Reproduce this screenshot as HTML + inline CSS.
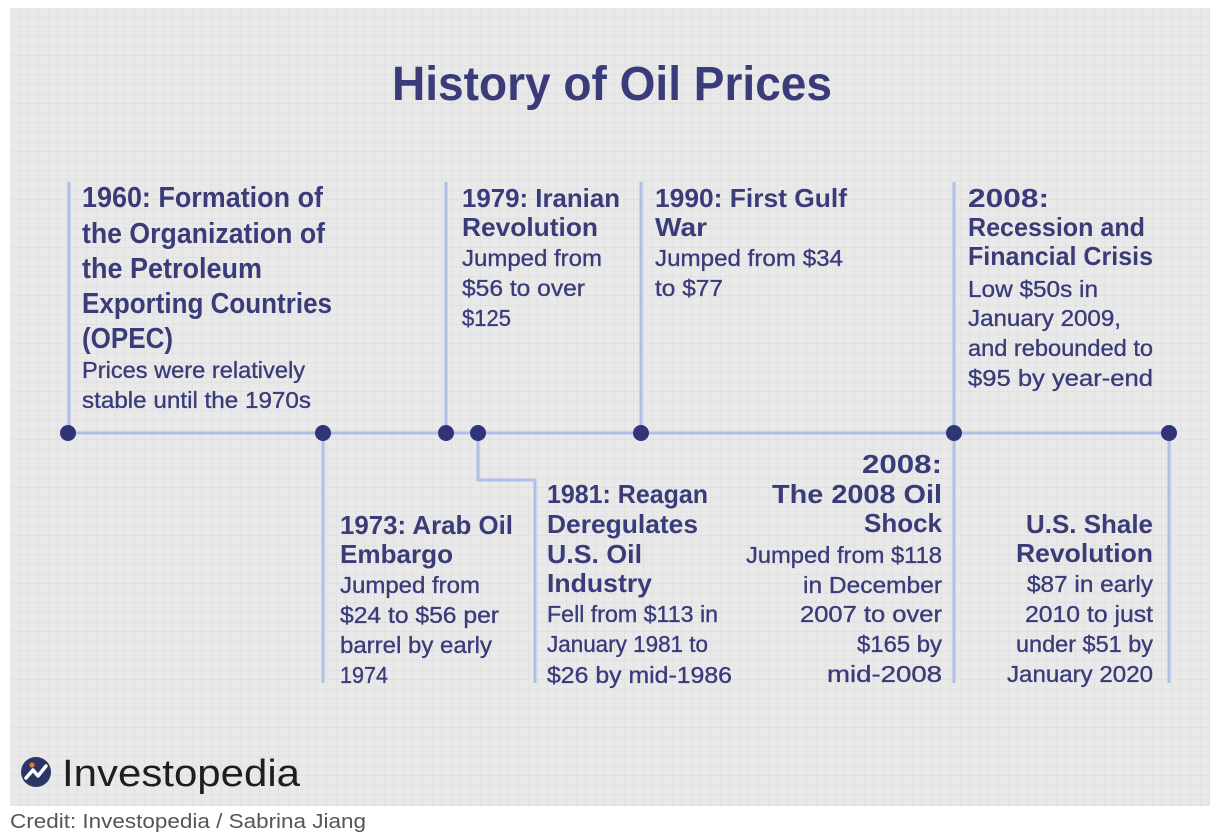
<!DOCTYPE html>
<html>
<head>
<meta charset="utf-8">
<style>
  html,body{margin:0;padding:0;background:#ffffff;}
  svg{display:block;}
  .t{font-family:"Liberation Sans",sans-serif;fill:#3a3c7a;}
  .h{font-weight:bold;}
  .b{font-weight:normal;stroke:#3a3c7a;stroke-width:0.35;}
</style>
</head>
<body>
<svg width="1220" height="836" viewBox="0 0 1220 836" xmlns="http://www.w3.org/2000/svg">
  <defs>
    <pattern id="grid" x="10" y="8" width="9.6" height="9.6" patternUnits="userSpaceOnUse">
      <rect width="9.6" height="9.6" fill="#e9e9e9"/>
      <path d="M9.6 0 V9.6 M0 9.6 H9.6" stroke="#d9d9d9" stroke-width="1" fill="none"/>
    </pattern>
  </defs>
  <rect x="0" y="0" width="1220" height="836" fill="#ffffff"/>
  <rect x="10" y="8" width="1200" height="798" fill="url(#grid)"/>

  <!-- Title -->
  <text class="t h" x="392" y="100" font-size="48" textLength="440" lengthAdjust="spacingAndGlyphs" fill="#35387e">History of Oil Prices</text>

  <!-- Lines -->
  <g stroke="#aebfe8" stroke-width="3" fill="none">
    <line x1="68" y1="433" x2="1170" y2="433"/>
    <line x1="69" y1="182" x2="69" y2="433"/>
    <line x1="323" y1="433" x2="323" y2="683"/>
    <line x1="446" y1="182" x2="446" y2="433"/>
    <polyline points="478,433 478,480 535,480 535,683"/>
    <line x1="641" y1="182" x2="641" y2="433"/>
    <line x1="954" y1="182" x2="954" y2="683"/>
    <line x1="1169" y1="433" x2="1169" y2="683"/>
  </g>
  <g fill="#2f3576">
    <circle cx="68" cy="433" r="8"/>
    <circle cx="323" cy="433" r="8"/>
    <circle cx="446" cy="433" r="8"/>
    <circle cx="478" cy="433" r="8"/>
    <circle cx="641" cy="433" r="8"/>
    <circle cx="954" cy="433" r="8"/>
    <circle cx="1169" cy="433" r="8"/>
  </g>

  <!-- 1960 -->
  <text class="t h" x="82" y="207" font-size="29" textLength="241" lengthAdjust="spacingAndGlyphs">1960: Formation of</text>
  <text class="t h" x="82" y="243" font-size="29" textLength="243" lengthAdjust="spacingAndGlyphs">the Organization of</text>
  <text class="t h" x="82" y="278" font-size="29" textLength="180" lengthAdjust="spacingAndGlyphs">the Petroleum</text>
  <text class="t h" x="82" y="313" font-size="29" textLength="250" lengthAdjust="spacingAndGlyphs">Exporting Countries</text>
  <text class="t h" x="82" y="348" font-size="29" textLength="91" lengthAdjust="spacingAndGlyphs">(OPEC)</text>
  <text class="t b" x="82" y="378" font-size="23" textLength="223" lengthAdjust="spacingAndGlyphs">Prices were relatively</text>
  <text class="t b" x="82" y="408" font-size="23" textLength="229" lengthAdjust="spacingAndGlyphs">stable until the 1970s</text>

  <!-- 1979 -->
  <text class="t h" x="462" y="207" font-size="26" textLength="158" lengthAdjust="spacingAndGlyphs">1979: Iranian</text>
  <text class="t h" x="462" y="236" font-size="26" textLength="136" lengthAdjust="spacingAndGlyphs">Revolution</text>
  <text class="t b" x="462" y="266" font-size="23" textLength="140" lengthAdjust="spacingAndGlyphs">Jumped from</text>
  <text class="t b" x="462" y="296" font-size="23" textLength="123" lengthAdjust="spacingAndGlyphs">$56 to over</text>
  <text class="t b" x="462" y="326" font-size="23" textLength="49" lengthAdjust="spacingAndGlyphs">$125</text>

  <!-- 1990 -->
  <text class="t h" x="655" y="207" font-size="26" textLength="192" lengthAdjust="spacingAndGlyphs">1990: First Gulf</text>
  <text class="t h" x="655" y="236" font-size="26" textLength="52" lengthAdjust="spacingAndGlyphs">War</text>
  <text class="t b" x="655" y="266" font-size="23" textLength="188" lengthAdjust="spacingAndGlyphs">Jumped from $34</text>
  <text class="t b" x="655" y="296" font-size="23" textLength="68" lengthAdjust="spacingAndGlyphs">to $77</text>

  <!-- 2008 Recession -->
  <text class="t h" x="968" y="207" font-size="26" textLength="81" lengthAdjust="spacingAndGlyphs">2008:</text>
  <text class="t h" x="968" y="236" font-size="26" textLength="177" lengthAdjust="spacingAndGlyphs">Recession and</text>
  <text class="t h" x="968" y="265" font-size="26" textLength="185" lengthAdjust="spacingAndGlyphs">Financial Crisis</text>
  <text class="t b" x="968" y="297" font-size="23" textLength="130" lengthAdjust="spacingAndGlyphs">Low $50s in</text>
  <text class="t b" x="968" y="326" font-size="23" textLength="153" lengthAdjust="spacingAndGlyphs">January 2009,</text>
  <text class="t b" x="968" y="356" font-size="23" textLength="185" lengthAdjust="spacingAndGlyphs">and rebounded to</text>
  <text class="t b" x="968" y="386" font-size="23" textLength="185" lengthAdjust="spacingAndGlyphs">$95 by year-end</text>

  <!-- 1973 -->
  <text class="t h" x="340" y="534" font-size="26" textLength="173" lengthAdjust="spacingAndGlyphs">1973: Arab Oil</text>
  <text class="t h" x="340" y="563" font-size="26" textLength="113" lengthAdjust="spacingAndGlyphs">Embargo</text>
  <text class="t b" x="340" y="593" font-size="23" textLength="140" lengthAdjust="spacingAndGlyphs">Jumped from</text>
  <text class="t b" x="340" y="623" font-size="23" textLength="159" lengthAdjust="spacingAndGlyphs">$24 to $56 per</text>
  <text class="t b" x="340" y="653" font-size="23" textLength="152" lengthAdjust="spacingAndGlyphs">barrel by early</text>
  <text class="t b" x="340" y="683" font-size="23" textLength="48" lengthAdjust="spacingAndGlyphs">1974</text>

  <!-- 1981 -->
  <text class="t h" x="547" y="503" font-size="26" textLength="161" lengthAdjust="spacingAndGlyphs">1981: Reagan</text>
  <text class="t h" x="547" y="533" font-size="26" textLength="151" lengthAdjust="spacingAndGlyphs">Deregulates</text>
  <text class="t h" x="547" y="563" font-size="26" textLength="95" lengthAdjust="spacingAndGlyphs">U.S. Oil</text>
  <text class="t h" x="547" y="592" font-size="26" textLength="105" lengthAdjust="spacingAndGlyphs">Industry</text>
  <text class="t b" x="547" y="622" font-size="23" textLength="171" lengthAdjust="spacingAndGlyphs">Fell from $113 in</text>
  <text class="t b" x="547" y="652" font-size="23" textLength="161" lengthAdjust="spacingAndGlyphs">January 1981 to</text>
  <text class="t b" x="547" y="683" font-size="23" textLength="185" lengthAdjust="spacingAndGlyphs">$26 by mid-1986</text>

  <!-- 2008 Oil Shock (right aligned to 942) -->
  <text class="t h" x="862" y="473" font-size="26" textLength="80" lengthAdjust="spacingAndGlyphs">2008:</text>
  <text class="t h" x="772" y="503" font-size="26" textLength="170" lengthAdjust="spacingAndGlyphs">The 2008 Oil</text>
  <text class="t h" x="864" y="532" font-size="26" textLength="78" lengthAdjust="spacingAndGlyphs">Shock</text>
  <text class="t b" x="746" y="563" font-size="23" textLength="196" lengthAdjust="spacingAndGlyphs">Jumped from $118</text>
  <text class="t b" x="803" y="593" font-size="23" textLength="139" lengthAdjust="spacingAndGlyphs">in December</text>
  <text class="t b" x="800" y="622" font-size="23" textLength="142" lengthAdjust="spacingAndGlyphs">2007 to over</text>
  <text class="t b" x="857" y="652" font-size="23" textLength="85" lengthAdjust="spacingAndGlyphs">$165 by</text>
  <text class="t b" x="827" y="682" font-size="23" textLength="115" lengthAdjust="spacingAndGlyphs">mid-2008</text>

  <!-- Shale (right aligned to 1153) -->
  <text class="t h" x="1026" y="533" font-size="26" textLength="127" lengthAdjust="spacingAndGlyphs">U.S. Shale</text>
  <text class="t h" x="1016" y="562" font-size="26" textLength="137" lengthAdjust="spacingAndGlyphs">Revolution</text>
  <text class="t b" x="1027" y="592" font-size="23" textLength="126" lengthAdjust="spacingAndGlyphs">$87 in early</text>
  <text class="t b" x="1025" y="622" font-size="23" textLength="128" lengthAdjust="spacingAndGlyphs">2010 to just</text>
  <text class="t b" x="1016" y="652" font-size="23" textLength="137" lengthAdjust="spacingAndGlyphs">under $51 by</text>
  <text class="t b" x="1007" y="682" font-size="23" textLength="146" lengthAdjust="spacingAndGlyphs">January 2020</text>

  <!-- Investopedia logo -->
  <circle cx="36" cy="772" r="15" fill="#2b3566"/>
  <path d="M26 778 L33 770 L38 776 L46 766" stroke="#ffffff" stroke-width="3.5" fill="none" stroke-linecap="round" stroke-linejoin="round"/>
  <circle cx="32" cy="765" r="2.6" fill="#e8703a"/>
  <text x="62" y="786" font-family="Liberation Sans, sans-serif" font-size="38" fill="#1e1e1e" textLength="238" lengthAdjust="spacingAndGlyphs">Investopedia</text>

  <!-- Credit -->
  <text x="10" y="828" font-family="Liberation Sans, sans-serif" font-size="20" fill="#555555" textLength="356" lengthAdjust="spacingAndGlyphs">Credit: Investopedia / Sabrina Jiang</text>
</svg>
</body>
</html>
